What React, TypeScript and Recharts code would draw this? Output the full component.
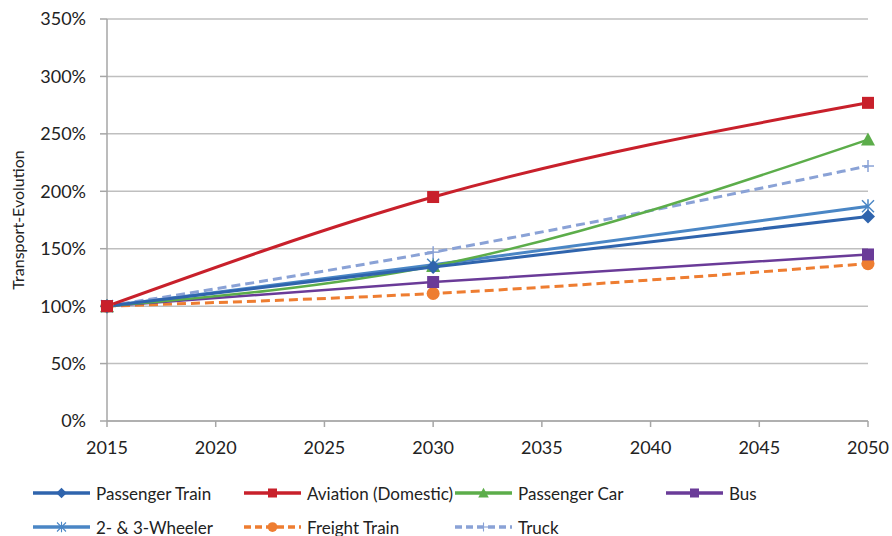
import React from "react";
import {
  LineChart,
  Line,
  XAxis,
  YAxis,
  CartesianGrid,
} from "recharts";

const years = [2015, 2030, 2050];
const xTicks = [2015, 2020, 2025, 2030, 2035, 2040, 2045, 2050];
const yTicks = [0, 50, 100, 150, 200, 250, 300, 350];

const passengerTrain = [100, 134, 178];
const aviation = [100, 195, 277];
const passengerCar = [100, 135, 245];
const bus = [100, 121, 145];
const wheeler = [100, 136, 187];
const freightTrain = [100, 111, 137];
const truck = [100, 147, 222];

type Series = {
  key: string;
  name: string;
  values: number[];
  color: string;
  dashed: boolean;
  marker: string;
  width: number;
};

const series: Series[] = [
  { key: "wheeler", name: "2- & 3-Wheeler", values: wheeler, color: "#4a86c5", dashed: false, marker: "star", width: 3 },
  { key: "truck", name: "Truck", values: truck, color: "#8aa2d6", dashed: true, marker: "plus", width: 3 },
  { key: "freight", name: "Freight Train", values: freightTrain, color: "#ee7d31", dashed: true, marker: "circle", width: 3 },
  { key: "bus", name: "Bus", values: bus, color: "#6a3b98", dashed: false, marker: "square", width: 2.5 },
  { key: "car", name: "Passenger Car", values: passengerCar, color: "#5cad4a", dashed: false, marker: "triangle", width: 2.5 },
  { key: "train", name: "Passenger Train", values: passengerTrain, color: "#2f64ad", dashed: false, marker: "diamond", width: 3 },
  { key: "aviation", name: "Aviation (Domestic)", values: aviation, color: "#c8202b", dashed: false, marker: "square", width: 3 },
];

const legendOrder = [
  ["train", "aviation", "car", "bus"],
  ["wheeler", "freight", "truck"],
];

const data = years.map((y, i) => {
  const row: Record<string, number> = { year: y };
  series.forEach((s) => {
    row[s.key] = s.values[i];
  });
  return row;
});

function Marker({ kind, color, cx, cy }: { kind: string; color: string; cx: number; cy: number }) {
  if (kind === "square")
    return <rect x={cx - 6} y={cy - 6} width={12} height={12} fill={color} />;
  if (kind === "diamond")
    return <polygon points={`${cx},${cy - 7} ${cx + 7},${cy} ${cx},${cy + 7} ${cx - 7},${cy}`} fill={color} />;
  if (kind === "triangle")
    return <polygon points={`${cx},${cy - 7} ${cx + 7},${cy + 6} ${cx - 7},${cy + 6}`} fill={color} />;
  if (kind === "circle") return <circle cx={cx} cy={cy} r={6.5} fill={color} />;
  if (kind === "plus")
    return (
      <g stroke={color} strokeWidth={1.5}>
        <line x1={cx - 6} y1={cy} x2={cx + 6} y2={cy} />
        <line x1={cx} y1={cy - 6} x2={cx} y2={cy + 6} />
      </g>
    );
  return (
    <g stroke={color} strokeWidth={1.5}>
      <line x1={cx - 6} y1={cy - 6} x2={cx + 6} y2={cy + 6} />
      <line x1={cx - 6} y1={cy + 6} x2={cx + 6} y2={cy - 6} />
      <line x1={cx} y1={cy - 7} x2={cx} y2={cy + 7} />
    </g>
  );
}

const font = "Lato, 'Open Sans', sans-serif";
const axisGray = "#a6a6a6";

export default function App() {
  return (
    <div
      style={{
        position: "fixed",
        left: 0,
        top: 0,
        width: 892,
        height: 536,
        overflow: "hidden",
        background: "#fff",
        fontFamily: font,
      }}
    >
      <LineChart
        width={892}
        height={470}
        data={data}
        margin={{ top: 19, right: 24, bottom: 9, left: 0 }}
      >
        <CartesianGrid vertical={false} stroke="#bfbfbf" strokeWidth={1.5} />
        <XAxis
          dataKey="year"
          type="number"
          domain={[2015, 2050]}
          ticks={xTicks}
          height={40}
          tickSize={6}
          tickLine={{ stroke: axisGray, strokeWidth: 1.5 }}
          axisLine={{ stroke: axisGray, strokeWidth: 1.5 }}
          tick={{ fill: "#222", fontSize: 18, fontFamily: font }}
          tickMargin={14}
        />
        <YAxis
          domain={[0, 350]}
          ticks={yTicks}
          width={107}
          tickSize={7}
          tickLine={{ stroke: axisGray, strokeWidth: 1.5 }}
          axisLine={{ stroke: axisGray, strokeWidth: 1.5 }}
          tickFormatter={(v: number) => `${v}%`}
          tick={{ fill: "#222", fontSize: 18, fontFamily: font }}
          tickMargin={14}
          label={{
            value: "Transport-Evolution",
            angle: -90,
            position: "insideLeft",
            offset: 18,
            style: { textAnchor: "middle", fontSize: 16, fill: "#222", fontFamily: font },
          }}
        />
        {series.map((s) => (
          <Line
            key={s.key}
            dataKey={s.key}
            name={s.name}
            type="monotone"
            stroke={s.color}
            strokeWidth={s.width}
            strokeDasharray={s.dashed ? "9 5" : undefined}
            isAnimationActive={false}
            dot={(p: any) => (
              <Marker key={`${s.key}-${p.index}`} kind={s.marker} color={s.color} cx={p.cx} cy={p.cy} />
            )}
            activeDot={false}
          />
        ))}
      </LineChart>
      {legendOrder.map((row, ri) => (
        <div
          key={ri}
          style={{ position: "absolute", left: 32, top: 481 + ri * 34, height: 24, display: "flex" }}
        >
          {row.map((k) => {
            const s = series.find((x) => x.key === k)!;
            return (
              <div
                key={k}
                style={{
                  width: 211,
                  flexShrink: 0,
                  display: "flex",
                  alignItems: "center",
                  fontSize: 17,
                  color: "#222",
                  whiteSpace: "nowrap",
                }}
              >
                <svg width={59} height={16} style={{ marginRight: 5, flexShrink: 0 }}>
                  <line
                    x1={1}
                    y1={8}
                    x2={58}
                    y2={8}
                    stroke={s.color}
                    strokeWidth={3.5}
                    strokeDasharray={s.dashed ? "7 4" : undefined}
                  />
                  <g transform="translate(29.5,8) scale(0.75) translate(-29.5,-8)">
                    <Marker kind={s.marker} color={s.color} cx={29.5} cy={8} />
                  </g>
                </svg>
                {s.name}
              </div>
            );
          })}
        </div>
      ))}
    </div>
  );
}
